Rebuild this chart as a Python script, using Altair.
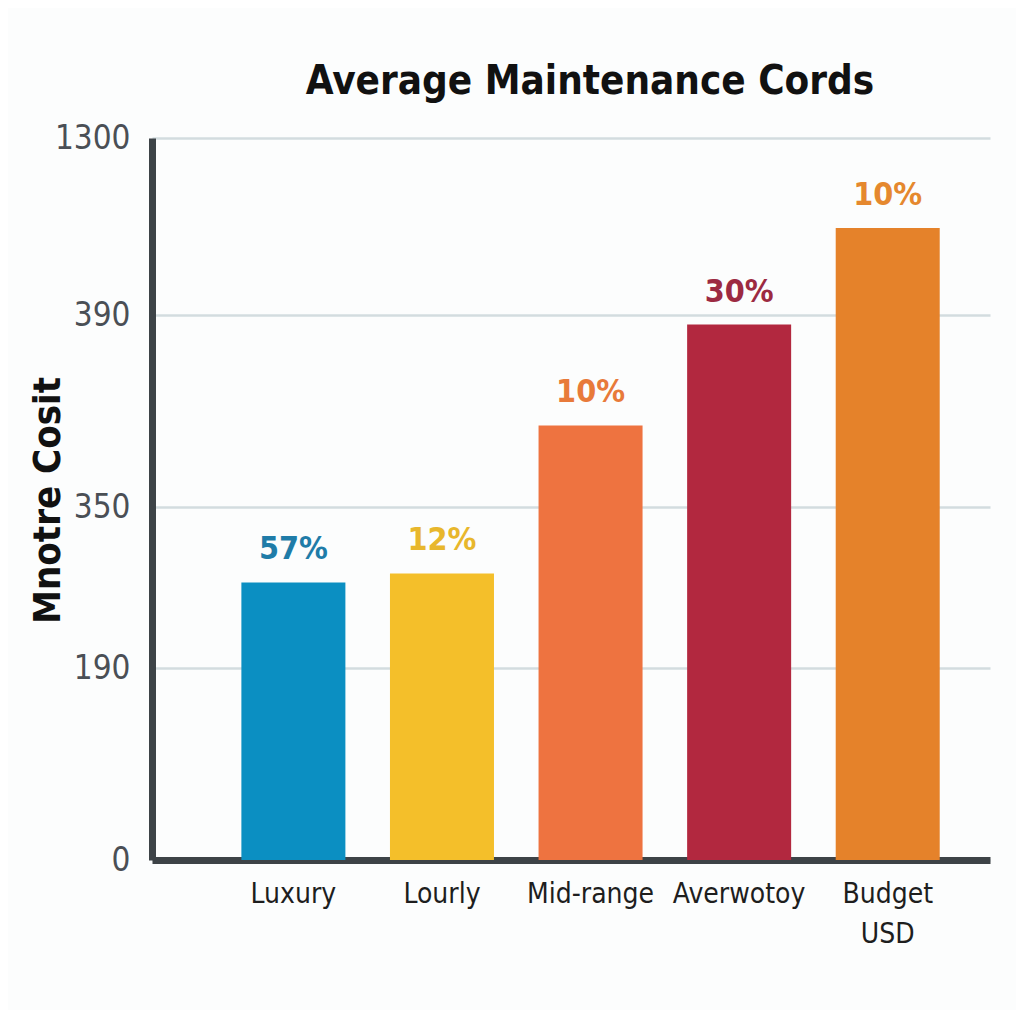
import altair as alt
import pandas as pd

categories = ["Luxury", "Lourly", "Mid-range", "Averwotoy", "Budget USD"]
costs = [275, 284, 367, 388, 837]
pct_labels = ["57%", "12%", "10%", "30%", "10%"]
y_ticks = [0, 190, 350, 390, 1300]

bar_colors = ["#0b8fc2", "#f4bf2a", "#ee7340", "#b2283f", "#e5822a"]
text_colors = ["#1f7ca8", "#e8b72c", "#e87a3a", "#9c2a42", "#e5882e"]

df = pd.DataFrame({"category": categories, "cost": costs, "label": pct_labels})

W, H = 838, 722
font = "DejaVu Sans Condensed"

x = alt.X(
    "category:N",
    sort=categories,
    scale=alt.Scale(paddingInner=0.3, paddingOuter=0.47, align=0.64),
    axis=alt.Axis(
        title=None,
        labelAngle=0,
        labelFont=font,
        labelFontSize=28,
        labelColor="#1e1e1e",
        labelPadding=20,
        labelLineHeight=40,
        labelExpr="datum.value == 'Budget USD' ? ['Budget', 'USD'] : datum.value",
        domainColor="#3d4347",
        domainWidth=7,
        ticks=False,
        grid=False,
    ),
)

y = alt.Y(
    "cost:Q",
    scale=alt.Scale(domain=y_ticks, range=[H, 530, 369, 177, 0]),
    axis=alt.Axis(
        title="Mnotre Cosit",
        titleFont=font,
        titleFontSize=38,
        titleFontWeight="bold",
        titleColor="#111111",
        titleAngle=-90,
        titleX=-104,
        titleY=362,
        titleAlign="center",
        titleBaseline="middle",
        values=y_ticks,
        format="d",
        labelFont=font,
        labelFontSize=33,
        labelColor="#4a4f55",
        labelPadding=22,
        domainColor="#3d4347",
        domainWidth=7,
        ticks=False,
        grid=True,
        gridColor="#d3dcdf",
        gridWidth=2.5,
    ),
)

bars = alt.Chart(df).mark_bar().encode(
    x=x,
    y=y,
    color=alt.Color("category:N", scale=alt.Scale(domain=categories, range=bar_colors), legend=None),
)

texts = alt.Chart(df).mark_text(
    baseline="bottom", dy=-16, font=font, fontSize=32, fontWeight="bold"
).encode(
    x=alt.X("category:N", sort=categories),
    y=alt.Y("cost:Q"),
    text="label:N",
    color=alt.Color("label_cat:N", scale=alt.Scale(domain=categories, range=text_colors), legend=None),
).transform_calculate(label_cat="datum.category")

chart = (
    alt.layer(bars, texts)
    .resolve_scale(color="independent")
    .properties(
        width=W,
        height=H,
        background="#fcfdfd",
        title=alt.TitleParams(
            "Average Maintenance Cords",
            font=font,
            fontSize=40,
            fontWeight=600,
            color="#111111",
            dx=19,
            offset=20,
        ),
        autosize=alt.AutoSizeParams(type="none"),
        padding={"left": 144, "top": 130, "right": 26, "bottom": 150},
    )
    .configure_view(strokeWidth=0, stroke="transparent")
)

chart.save("out.html", embed_options={"renderer": "svg", "actions": False})
